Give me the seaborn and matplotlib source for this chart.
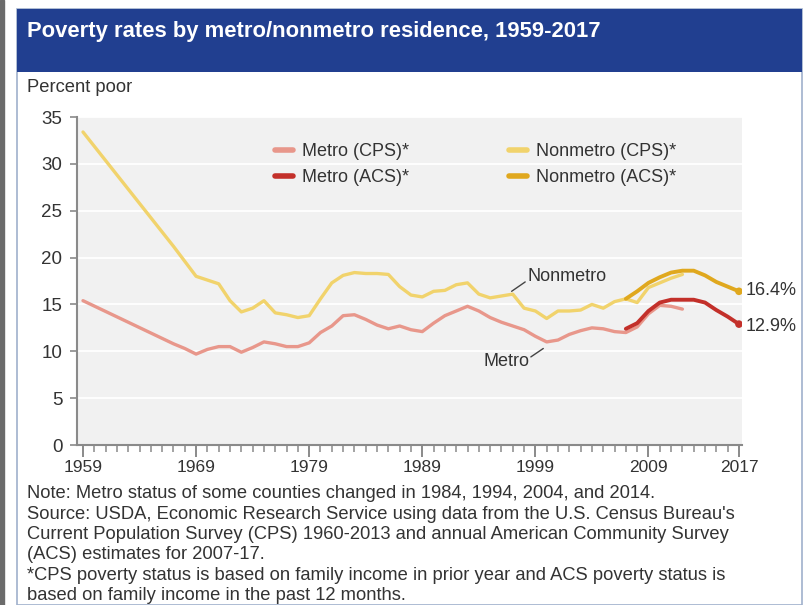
import numpy as np
import pandas as pd
import matplotlib.pyplot as plt
import seaborn as sns
from matplotlib.patches import Rectangle
from matplotlib.lines import Line2D
from matplotlib.ticker import FixedLocator, MultipleLocator

# data (percent poor)
cps_years = [1959] + list(range(1967, 2013))
metro_cps = [15.4, 10.8, 10.3, 9.7, 10.2, 10.5, 10.5, 9.9, 10.4, 11.0, 10.8,
             10.5, 10.5, 10.9, 12.0, 12.7, 13.8, 13.9, 13.4, 12.8, 12.4, 12.7,
             12.3, 12.1, 13.0, 13.8, 14.3, 14.8, 14.3, 13.6, 13.1, 12.7, 12.3,
             11.6, 11.0, 11.2, 11.8, 12.2, 12.5, 12.4, 12.1, 12.0, 12.6, 14.0,
             14.9, 14.8, 14.5]
nonmetro_cps = [33.4, 21.2, 19.6, 18.0, 17.6, 17.2, 15.4, 14.2, 14.6, 15.4, 14.1,
                13.9, 13.6, 13.8, 15.6, 17.3, 18.1, 18.4, 18.3, 18.3, 18.2, 16.9,
                16.0, 15.8, 16.4, 16.5, 17.1, 17.3, 16.1, 15.7, 15.9, 16.1, 14.6,
                14.3, 13.5, 14.3, 14.3, 14.4, 15.0, 14.6, 15.3, 15.6, 15.2, 16.8,
                17.3, 17.8, 18.2]
acs_years = list(range(2007, 2018))
metro_acs = [12.4, 13.0, 14.3, 15.2, 15.5, 15.5, 15.5, 15.2, 14.4, 13.7, 12.9]
nonmetro_acs = [15.6, 16.4, 17.3, 17.9, 18.4, 18.6, 18.6, 18.1, 17.4, 16.9, 16.4]

major_years = [1959, 1969, 1979, 1989, 1999, 2009, 2017]
end_labels = ["16.4%", "12.9%"]

title = "Poverty rates by metro/nonmetro residence, 1959-2017"
notes = [
    "Note: Metro status of some counties changed in 1984, 1994, 2004, and 2014.",
    "Source: USDA, Economic Research Service using data from the U.S. Census Bureau's",
    "Current Population Survey (CPS) 1960-2013 and annual American Community Survey",
    "(ACS) estimates for 2007-17.",
    "*CPS poverty status is based on family income in prior year and ACS poverty status is",
    "based on family income in the past 12 months.",
]

sns.set_theme(style="white")
plt.rcParams['font.family'] = ['Liberation Sans', 'DejaVu Sans']
txt = "#333333"

W, H = 807, 605
def px(x, y):
    return x / W, 1 - y / H

fig = plt.figure(figsize=(8.07, 6.05), dpi=100)
fig.set_facecolor("white")

# frame and banner
fig.patches.append(Rectangle(px(0, 605), 4 / W, 1, transform=fig.transFigure, color="#6b6b6b", zorder=-2))
fig.patches.append(Rectangle(px(17, 605), (802 - 17) / W, (605 - 9) / H, transform=fig.transFigure,
                             facecolor="white", edgecolor="#9fb0cc", lw=1.2, zorder=-2))
fig.patches.append(Rectangle(px(17, 72), (802 - 17) / W, (72 - 9) / H, transform=fig.transFigure,
                             facecolor="#213f90", edgecolor="none", zorder=-1))
fig.text(*px(27, 31), title, color="white", fontsize=15.8, fontweight="bold", va="center", ha="left")
fig.text(*px(27, 88), "Percent poor", color=txt, fontsize=13.2, va="center", ha="left")

ax = fig.add_axes([77 / W, 1 - 445 / H, (742 - 77) / W, (445 - 117) / H])
ax.set_zorder(2)
ax.set_facecolor("#f1f1f1")

c_mcps, c_macs = "#e8978b", "#c3302a"
c_ncps, c_nacs = "#f1d36c", "#e0a81e"

sns.lineplot(x=cps_years, y=metro_cps, ax=ax, color=c_mcps, lw=2.4, label="Metro (CPS)*")
sns.lineplot(x=cps_years, y=nonmetro_cps, ax=ax, color=c_ncps, lw=2.4, label="Nonmetro (CPS)*")
sns.lineplot(x=acs_years, y=metro_acs, ax=ax, color=c_macs, lw=2.8, label="Metro (ACS)*")
sns.lineplot(x=acs_years, y=nonmetro_acs, ax=ax, color=c_nacs, lw=2.8, label="Nonmetro (ACS)*")
sns.scatterplot(x=[acs_years[-1]] * 2, y=[metro_acs[-1], nonmetro_acs[-1]], ax=ax,
                hue=[0, 1], palette=[c_macs, c_nacs], s=30, edgecolor="none", legend=False, zorder=5)

ax.set_xlim(1958.47, 2017.27)
ax.set_ylim(0, 35)
ax.yaxis.set_major_locator(MultipleLocator(5))
ax.xaxis.set_major_locator(FixedLocator(major_years))
ax.xaxis.set_minor_locator(MultipleLocator(1))
ax.grid(axis="y", color="white", lw=1.3)
ax.set_axisbelow(True)
for s in ["top", "right"]:
    ax.spines[s].set_visible(False)
for s in ["left", "bottom"]:
    ax.spines[s].set_color("#8a8a8a")
    ax.spines[s].set_linewidth(1.5)
ax.tick_params(axis="y", which="major", length=5, width=1.2, color="#8a8a8a", labelsize=13.5, labelcolor=txt, pad=5.5, left=True)
ax.tick_params(axis="x", which="major", length=8.6, width=1.4, color="#8a8a8a", labelsize=12.5, labelcolor=txt, pad=2, bottom=True)
ax.tick_params(axis="x", which="minor", length=5, width=1.1, color="#8a8a8a", bottom=True)
ax.set_xlabel("")
ax.set_ylabel("")

# legend
handles = [Line2D([], [], color=c_mcps, lw=4), Line2D([], [], color=c_macs, lw=4),
           Line2D([], [], color=c_ncps, lw=4), Line2D([], [], color=c_nacs, lw=4)]
labels = ["Metro (CPS)*", "Metro (ACS)*", "Nonmetro (CPS)*", "Nonmetro (ACS)*"]
ax.legend(handles, labels, ncol=2, loc="upper left", bbox_to_anchor=px(275, 143),
          bbox_transform=fig.transFigure, frameon=False, fontsize=13, handlelength=1.0,
          handletextpad=0.5, columnspacing=5.55, labelspacing=0.52, borderpad=0, borderaxespad=0,
          labelcolor=txt)

# series labels
ax.plot([1996.9, 1998.1], [16.4, 17.4], color="#444444", lw=1)
ax.text(1998.3, 18.0, "Nonmetro", fontsize=13, color=txt, ha="left", va="center")
ax.plot([1998.6, 1999.7], [9.4, 10.3], color="#444444", lw=1)
ax.text(1998.5, 8.9, "Metro", fontsize=13, color=txt, ha="right", va="center")
ax.text(2017.55, 16.5, end_labels[0], fontsize=13, color=txt, ha="left", va="center", clip_on=False)
ax.text(2017.55, 12.6, end_labels[1], fontsize=13, color=txt, ha="left", va="center", clip_on=False)

for i, line in enumerate(notes):
    fig.text(*px(27, 494 + i * 20.3), line, fontsize=13.2, color=txt, ha="left", va="center")

fig.savefig("out.png", dpi=100)
